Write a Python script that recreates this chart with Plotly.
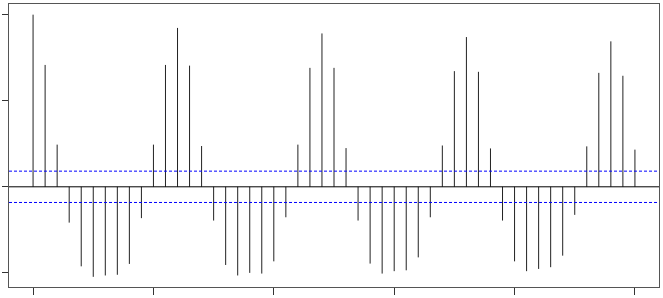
import plotly.graph_objects as go

lags = list(range(0, 51))
acf = [1.0, 0.708, 0.245, -0.208, -0.462, -0.523, -0.515, -0.511, -0.448, -0.182,
       0.245, 0.708, 0.923, 0.704, 0.237, -0.196, -0.454, -0.515, -0.500, -0.504,
       -0.433, -0.177, 0.245, 0.691, 0.891, 0.691, 0.225, -0.196, -0.446, -0.504,
       -0.490, -0.485, -0.410, -0.177, 0.240, 0.672, 0.870, 0.668, 0.223, -0.196,
       -0.433, -0.490, -0.477, -0.467, -0.400, -0.163, 0.235, 0.662, 0.845, 0.645,
       0.216]
ci = 0.091
x_ticks = [0, 10, 20, 30, 40, 50]
y_ticks = [-0.5, 0.0, 0.5, 1.0]

xs, ys = [], []
for l, v in zip(lags, acf):
    xs += [l, l, None]
    ys += [0, v, None]

fig = go.Figure()
fig.add_trace(go.Scatter(x=xs, y=ys, mode="lines",
                         line=dict(color="#222222", width=1), hoverinfo="skip"))
fig.add_hline(y=0, line=dict(color="black", width=1))
for c in (ci, -ci):
    fig.add_hline(y=c, line=dict(color="blue", width=1, dash="3px,2px"))

fig.update_layout(
    width=663, height=298,
    margin=dict(l=7, r=4, t=3, b=11),
    plot_bgcolor="white", paper_bgcolor="white",
    showlegend=False,
)
fig.update_xaxes(range=[-2, 52], tickvals=x_ticks, showticklabels=False,
                 ticks="outside", ticklen=7, tickcolor="#333333",
                 showgrid=False, zeroline=False, showline=True, mirror=True,
                 linecolor="#555555", linewidth=1)
fig.update_yaxes(range=[-0.582, 1.062], tickvals=y_ticks, showticklabels=False,
                 ticks="outside", ticklen=6, tickcolor="#333333",
                 showgrid=False, zeroline=False, showline=True, mirror=True,
                 linecolor="#555555", linewidth=1)

fig.write_html("out.html")
